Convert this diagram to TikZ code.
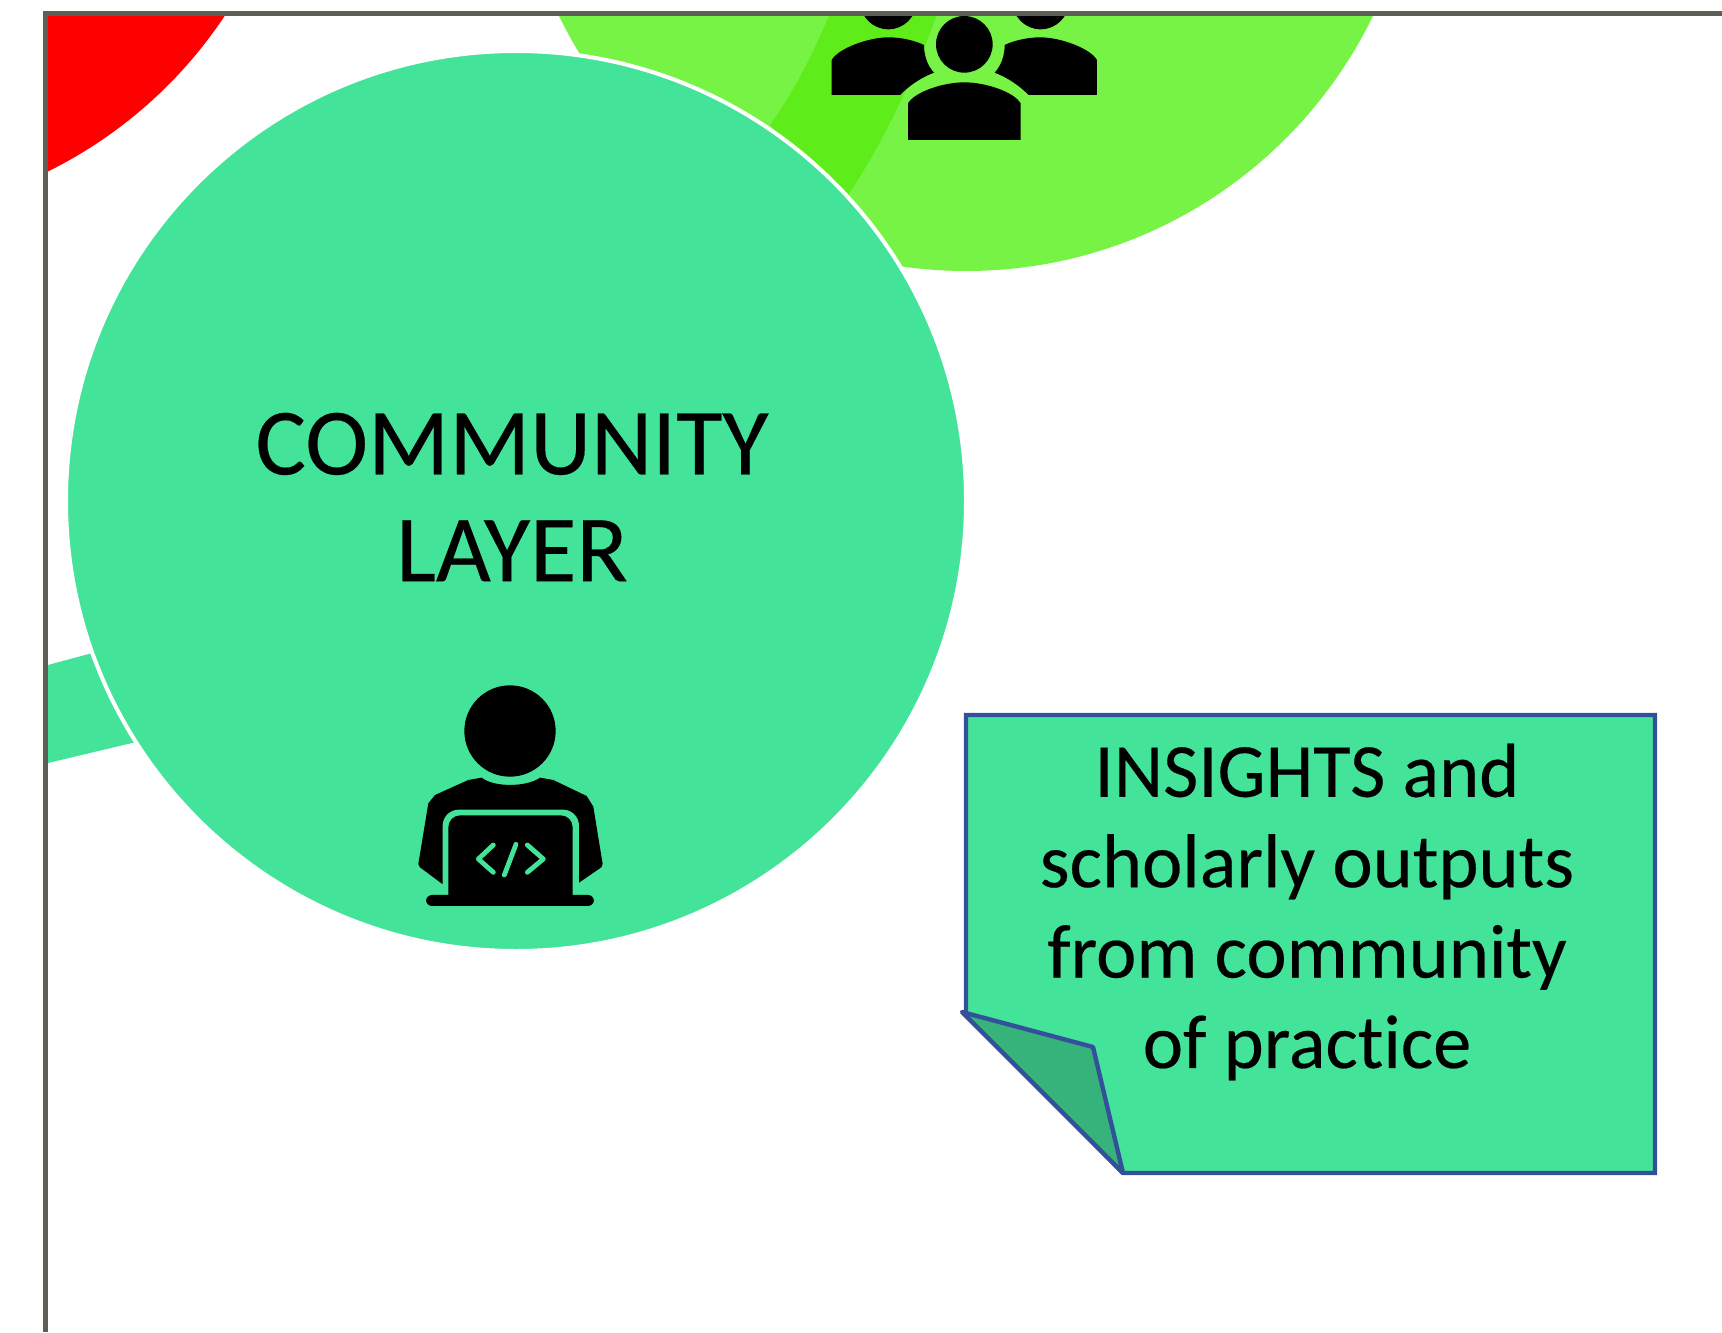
\documentclass[tikz,border=0pt]{standalone}
\usepackage{fontspec}
\setmainfont[Ligatures=NoCommon,FakeBold=0.25]{Carlito}
\definecolor{teal1}{HTML}{44E39A}
\definecolor{tealdark}{HTML}{36B37A}
\definecolor{lime1}{HTML}{76F344}
\definecolor{lime2}{HTML}{5FEC1B}
\definecolor{framegray}{HTML}{605C58}
\definecolor{noteblue}{HTML}{34509A}
\tikzset{
  layerdisc/.style={fill=teal1,draw=white,line width=2pt},
  notepaper/.style={fill=teal1,draw=noteblue,line width=2.2pt,line join=miter},
  notefold/.style={fill=tealdark,draw=noteblue,line width=2.2pt,line join=round},
  bigtext/.style={font=\fontsize{47.4}{53.4}\selectfont,align=center,inner sep=0pt,text=black},
  notetext/.style={font=\fontsize{38.2}{45.2}\selectfont,align=center,inner sep=0pt,text=black},
  codeglyph/.style={draw=teal1,line width=2.4pt,line cap=round,line join=round},
}
\begin{document}
\begin{tikzpicture}[x=0.5pt,y=-0.5pt]
\useasboundingbox (0,0) rectangle (1722,1332);
\fill[white] (0,0) rectangle (1722,1332);
\begin{scope}
\clip (45,14) rectangle (1722,1332);
% other layer discs cut by the frame
\fill[red] (-152,-234) circle[radius=452];
\fill[lime1] (966,-181) circle[radius=452];
\fill[lime2] (830,14) .. controls (812,55) and (795,90) .. (770,125) -- (845,200)
   .. controls (885,140) and (915,75) .. (937,14) -- cycle;
\fill[teal1] (48,665) -- (170,632) -- (220,722) -- (48,763) -- cycle;
% group icon
\begin{scope}[shift={(780,0)},x=0.5pt/3,y=-0.5pt/3]
  \fill[black] (325,3) circle[radius=85];
  \fill[black] (782,3) circle[radius=85];
  \fill[black] (553,133) circle[radius=85];
  \fill[black] (155,285) -- (155,180) .. controls (175,145) and (265,112) .. (325,112)
     .. controls (365,112) and (405,122) .. (432,135) .. controls (432,165) and (442,197) .. (462,218)
     .. controls (425,232) and (390,255) .. (360,285) -- cycle;
  \fill[black] (951,285) -- (951,180) .. controls (931,145) and (841,112) .. (781,112)
     .. controls (741,112) and (701,122) .. (674,135) .. controls (674,165) and (664,197) .. (644,218)
     .. controls (681,232) and (716,255) .. (746,285) -- cycle;
  \fill[black] (384,420) -- (384,310) .. controls (405,275) and (490,247) .. (553,247)
     .. controls (616,247) and (701,275) .. (722,310) -- (722,420) -- cycle;
\end{scope}
\end{scope}
% community disc
\path[layerdisc] (516,501) circle[radius=450];
\node[bigtext] (community) at (512,497) {COMMUNITY\\LAYER};
% developer icon
\begin{scope}[shift={(380,660)},x=0.5pt/3,y=-0.5pt/3]
  \fill[black] (390,213) circle[radius=137];
  \fill[black] (305,353) .. controls (340,382) and (440,382) .. (480,353)
     -- (520,360) -- (620,408) -- (640,440) -- (668,612) -- (664,622) -- (597,668) -- (187,672)
     -- (120,622) -- (115,612) -- (145,430) -- (165,405) -- (265,360) -- cycle;
  \fill[teal1,rounded corners=8pt] (188,449) rectangle (597,760);
  \fill[black,rounded corners=6pt] (205,466) rectangle (578,760);
  \fill[teal1] (130,739) rectangle (650,780);
  \fill[black,rounded corners=3pt] (138,705) -- (642,705) -- (642,738) -- (138,738) -- cycle;
  \path[codeglyph] (340,555) -- (295,597) -- (340,637);
  \path[codeglyph] (408,553) -- (373,645);
  \path[codeglyph] (442,555) -- (490,597) -- (442,637);
\end{scope}
% note
\path[notepaper] (966,1013) -- (966,715) -- (1655,715) -- (1655,1173) -- (1123,1173) -- cycle;
\path[notefold] (962,1012) -- (1093,1047) -- (1123,1173) -- cycle;
\node[notetext] (insights) at (1307,912) {INSIGHTS and\\scholarly outputs\\from community\\of practice};
% frame
\draw[framegray,line width=2.7pt,line cap=butt,line join=miter] (45.5,1332) -- (45.5,13.5) -- (1722,13.5);
\end{tikzpicture}
\end{document}
